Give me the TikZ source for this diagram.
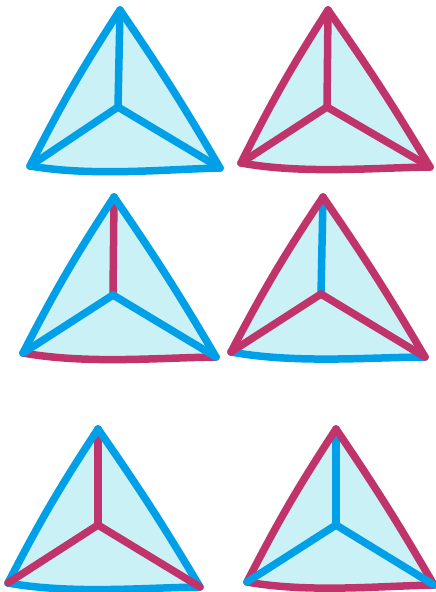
\documentclass[tikz,border=0pt]{standalone}
\usetikzlibrary{calc}

\definecolor{edgeblue}{HTML}{00A0E9}
\definecolor{edgered}{HTML}{C1346B}
\definecolor{facecyan}{HTML}{CAF2F6}

\tikzset{edge/.style={line width=7.5pt, line cap=round, line join=round}}

% one tetrahedron seen from above: #1 suffix of its corners,
% then colours of base, left side, right side, upper spoke, left spoke, right spoke
\newcommand{\tetra}[7]{%
  \fill[facecyan] (left#1)
    .. controls ($(left#1)!0.33!(right#1)+(0,10)$) and ($(left#1)!0.7!(right#1)+(0,2)$) .. (right#1)
    to[bend right=2] (top#1) to[bend right=3] (left#1) -- cycle;
  \draw[edge,#2] (left#1)
    .. controls ($(left#1)!0.33!(right#1)+(0,10)$) and ($(left#1)!0.7!(right#1)+(0,2)$) .. (right#1);
  \draw[edge,#5] (mid#1) -- (top#1);
  \draw[edge,#3] (left#1) to[bend left=3] (top#1);
  \draw[edge,#4] (right#1) to[bend right=2] (top#1);
  \draw[edge,#6] (mid#1) -- (left#1);
  \draw[edge,#7] (mid#1) -- (right#1);
}

\begin{document}
\begin{tikzpicture}[x=1pt,y=-1pt]
    \useasboundingbox (0,0) rectangle (436,592);

    % Corners of the six tetrahedra
    \coordinate (top1) at (120,10);  \coordinate (left1) at (30,166);
    \coordinate (right1) at (220,168); \coordinate (mid1) at (118,107);
    \coordinate (top2) at (328,10);  \coordinate (left2) at (241,163);
    \coordinate (right2) at (430,167); \coordinate (mid2) at (327,107);
    \coordinate (top3) at (114,197); \coordinate (left3) at (23,353);
    \coordinate (right3) at (216,357); \coordinate (mid3) at (113,295);
    \coordinate (top4) at (323,197); \coordinate (left4) at (231,352);
    \coordinate (right4) at (425,357); \coordinate (mid4) at (321,294);
    \coordinate (top5) at (98,429);  \coordinate (left5) at (8,583);
    \coordinate (right5) at (200,587); \coordinate (mid5) at (98,525);
    \coordinate (top6) at (336,429); \coordinate (left6) at (247,582);
    \coordinate (right6) at (434,585); \coordinate (mid6) at (336,525);

    % Top row: all blue, all red
    \tetra{1}{edgeblue}{edgeblue}{edgeblue}{edgeblue}{edgeblue}{edgeblue}
    \tetra{2}{edgered}{edgered}{edgered}{edgered}{edgered}{edgered}

    % Middle row: base and upper spoke in the other colour
    \tetra{3}{edgered}{edgeblue}{edgeblue}{edgered}{edgeblue}{edgeblue}
    \tetra{4}{edgeblue}{edgered}{edgered}{edgeblue}{edgered}{edgered}

    % Bottom row: outline in one colour, spokes in the other
    \tetra{5}{edgeblue}{edgeblue}{edgeblue}{edgered}{edgered}{edgered}
    \tetra{6}{edgered}{edgered}{edgered}{edgeblue}{edgeblue}{edgeblue}

\end{tikzpicture}
\end{document}
